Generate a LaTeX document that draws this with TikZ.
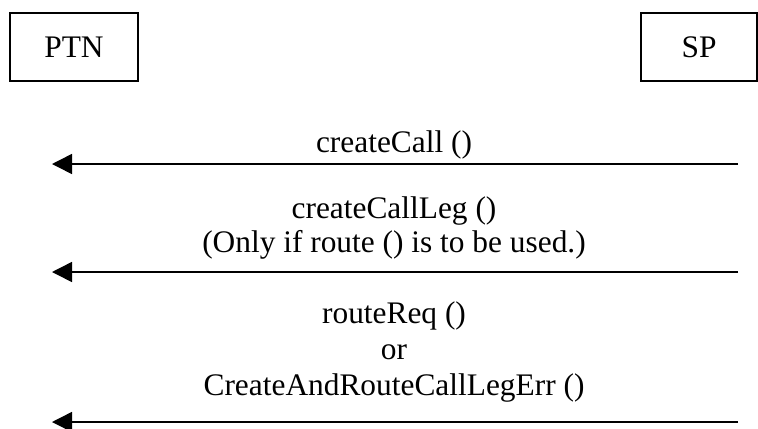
\documentclass[tikz,border=0pt]{standalone}
\usepackage{fontspec}
\setmainfont{Liberation Serif}
\usetikzlibrary{arrows.meta}
\begin{document}
\begin{tikzpicture}[x=1bp,y=-1bp,
  entity/.style={draw,line width=1.5bp,minimum height=68bp,inner sep=0pt,font=\fontsize{31.5}{36}\selectfont},
  msg/.style={line width=1.5bp,-{Triangle[length=20bp,width=20bp]}},
  lbl/.style={font=\fontsize{31.5}{36}\selectfont,inner sep=0pt,anchor=base}]
\useasboundingbox (0,0) rectangle (758,428);
\node[entity,minimum width=128bp] (ptn) at (74,47) {PTN};
\node[entity,minimum width=116bp] (sp) at (699,47) {SP};
\coordinate (s1) at (738,164); \coordinate (e1) at (52,164);
\coordinate (s2) at (738,272); \coordinate (e2) at (52,272);
\coordinate (s3) at (738,422); \coordinate (e3) at (52,422);
\draw[msg] (s1) -- (e1);
\draw[msg] (s2) -- (e2);
\draw[msg] (s3) -- (e3);
\node[lbl] (t1) at (394,152) {createCall ()};
\node[lbl] (t2) at (394,218.5) {createCallLeg ()};
\node[lbl] (t3) at (394,252) {(Only if route () is to be used.)};
\node[lbl] (t4) at (394,323) {routeReq ()};
\node[lbl] (t5) at (394,359) {or};
\node[lbl] (t6) at (394,395) {CreateAndRouteCallLegErr ()};
\end{tikzpicture}
\end{document}
